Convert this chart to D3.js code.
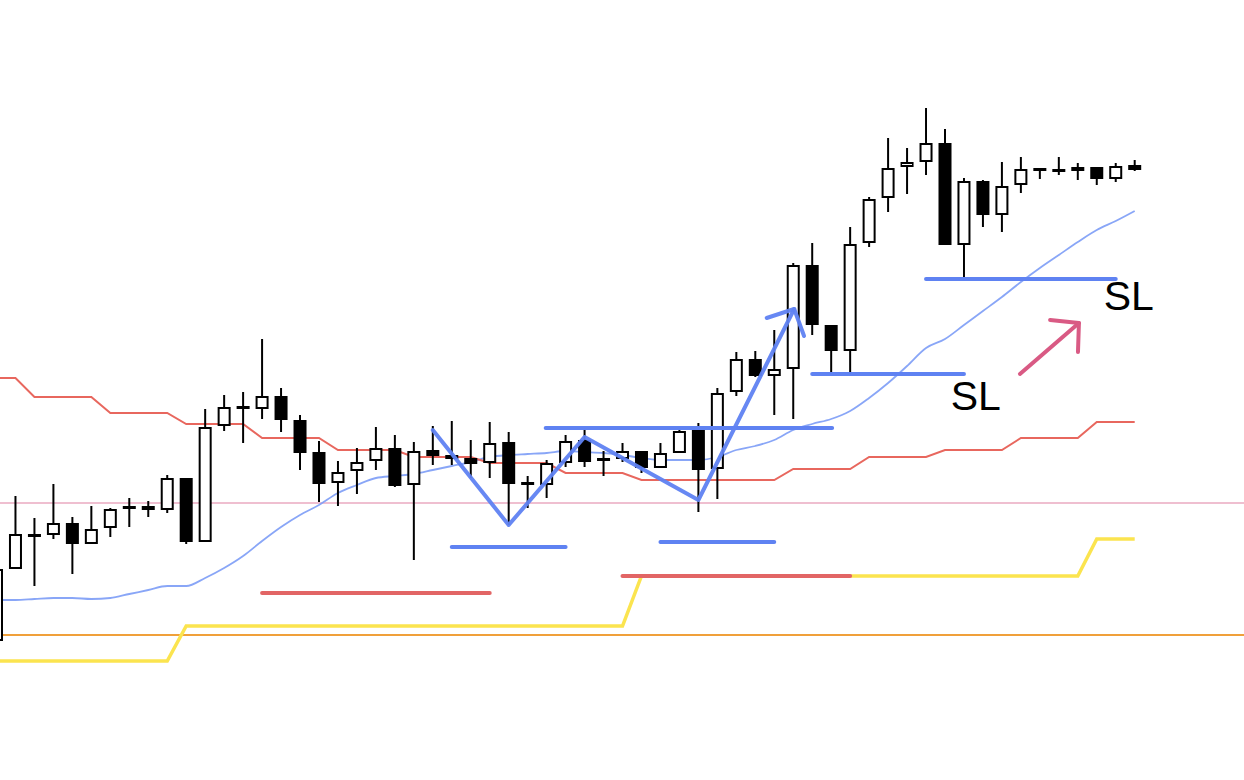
<!DOCTYPE html>
<html>
<head>
<meta charset="utf-8">
<script src="https://cdn.jsdelivr.net/npm/d3@7"></script>
<style>
	html, body { margin: 0; padding: 0; background: #fff; }
	svg { display: block; }
	.sl-label { font-family: "Liberation Sans", Arial, sans-serif; font-size: 41px; fill: #000; }
</style>
</head>
<body>
<svg id="chart" width="1244" height="780" viewBox="0 0 1244 780"></svg>
<script>
// candle prices (open, high, low, close), one entry per bar
const opens  = [139,211,246,245,257,236,252,274,274,270,302,238,354,374,371,384,360,328,297,309,
                319,332,295,330,325,322,317,338,298,295,317,340,322,321,329,312,327,350,311,388,
                421,404,411,515,455,429,537,582,613,618,637,535,599,565,595,612,611,613,613,601,615];
const highs  = [211,284,262,296,263,274,272,282,279,305,302,371,385,388,441,392,365,339,319,332,
                353,345,338,354,359,340,358,348,304,320,345,350,329,337,329,337,350,357,392,428,
                429,450,517,537,455,553,583,642,632,672,651,602,600,618,623,612,623,617,613,617,620];
const lows   = [139,211,194,241,206,236,243,253,263,267,236,238,349,337,361,348,310,278,274,286,
                310,293,220,315,315,302,302,255,272,282,313,313,304,318,307,312,327,268,281,384,
                403,365,361,445,408,407,533,568,586,605,535,502,553,548,587,601,605,600,595,598,609];
const closes = [211,246,245,257,236,251,271,271,270,302,238,353,373,371,384,360,327,296,308,318,
                332,294,329,324,321,316,337,296,297,317,339,318,320,329,312,327,349,310,387,421,
                404,411,515,455,429,536,581,612,618,637,535,599,565,594,611,609,610,609,601,614,610];

// indicator series, one value per bar
const maLine   = [180,180,181,182,182,181,182,186,190,194,194,202,212,224,239,253,265,275,287,295,
                  302,304,306,310,314,318,323,325,326,327,329,328,327,325,322,320,320,320,323,330,
                  334,340,350,356,361,369,382,397,414,432,441,455,469,483,498,512,525,538,550,559,569];
const upperStep = [402,402,383,383,383,383,367,367,367,367,356,356,356,356,342,342,342,342,330,330,
                   330,330,323,323,323,323,317,317,317,317,307,307,307,307,300,300,300,300,300,300,
                   300,300,311,311,311,311,323,323,323,323,330,330,330,330,342,342,342,342,358,358,358];
const lowerStep = [119,119,119,119,119,119,119,119,119,119,154,154,154,154,154,154,154,154,154,154,
                   154,154,154,154,154,154,154,154,154,154,154,154,154,154,204,204,204,204,204,204,
                   204,204,204,204,204,204,204,204,204,204,204,204,204,204,204,204,204,204,241,241,241];

// horizontal levels across the whole chart
const pinkLevel = 277;
const orangeLevel = 145;

// drawn annotations: [startBar, endBar, price]
const blueLevels = [[24, 30, 233], [35, 41, 238], [28.95, 44.05, 352], [43, 51, 406], [49, 59, 501]];
const redLevels  = [[14, 26, 187], [33, 45, 204]];
const zigzag     = [[23, 350], [27, 255], [31, 343], [37, 280], [42.05, 471]];
const zigzagHead = [[40.6, 462], [42.05, 471], [42.57, 444]];
const pinkArrow  = [[53.95, 406], [57.06, 457]];
const pinkHead   = [[55.54, 460], [57.06, 457], [57.01, 428]];
const slLabels   = [[50.3, 370], [58.37, 470]];

const svg = d3.select('#chart');
const width = 1244, height = 780;

const x = d3.scaleLinear().domain([0, 60]).range([-3.5, 1134.7]);
const y = d3.scaleLinear().domain([0, 780]).range([780, 0]);

const candles = opens.map((o, i) => ({ i: i, o: o, h: highs[i], l: lows[i], c: closes[i] }));

svg.append('rect').attr('width', width).attr('height', height).attr('fill', '#fff');

// horizontal levels
svg.append('line').attr('x1', 0).attr('x2', width)
	.attr('y1', y(pinkLevel)).attr('y2', y(pinkLevel))
	.attr('stroke', '#efbfd0').attr('stroke-width', 2);
svg.append('line').attr('x1', 0).attr('x2', width)
	.attr('y1', y(orangeLevel)).attr('y2', y(orangeLevel))
	.attr('stroke', '#f0a03a').attr('stroke-width', 2);

const seriesLine = d3.line().x((d, i) => x(i)).y(d => y(d));

svg.append('path').datum(lowerStep).attr('d', seriesLine)
	.attr('fill', 'none').attr('stroke', '#fbe44f').attr('stroke-width', 3.5);
svg.append('path').datum(maLine).attr('d', seriesLine.curve(d3.curveMonotoneX))
	.attr('fill', 'none').attr('stroke', '#7c9cf6').attr('stroke-opacity', 0.9).attr('stroke-width', 1.8);
seriesLine.curve(d3.curveLinear);
svg.append('path').datum(upperStep).attr('d', seriesLine)
	.attr('fill', 'none').attr('stroke', '#e8675e').attr('stroke-width', 2);

// candles
const bars = svg.append('g').selectAll('g').data(candles).enter().append('g');
bars.append('line')
	.attr('x1', d => x(d.i)).attr('x2', d => x(d.i))
	.attr('y1', d => y(d.h)).attr('y2', d => y(d.l))
	.attr('stroke', '#000').attr('stroke-width', 2);
bars.append('rect')
	.attr('x', d => x(d.i) - 5.5)
	.attr('width', 11)
	.attr('y', d => y(Math.max(d.o, d.c)) + 1)
	.attr('height', d => Math.max(Math.abs(d.o - d.c) - 2, 1))
	.attr('fill', d => d.c > d.o ? '#fff' : '#000')
	.attr('stroke', '#000').attr('stroke-width', 2);

// red annotation levels
svg.append('g').selectAll('line').data(redLevels).enter().append('line')
	.attr('x1', d => x(d[0])).attr('x2', d => x(d[1]))
	.attr('y1', d => y(d[2])).attr('y2', d => y(d[2]))
	.attr('stroke', '#e26565').attr('stroke-width', 4).attr('stroke-linecap', 'round');

// blue annotation levels
svg.append('g').selectAll('line').data(blueLevels).enter().append('line')
	.attr('x1', d => x(d[0])).attr('x2', d => x(d[1]))
	.attr('y1', d => y(d[2])).attr('y2', d => y(d[2]))
	.attr('stroke', '#5f82f2').attr('stroke-width', 4).attr('stroke-linecap', 'round');

const pointLine = d3.line().x(d => x(d[0])).y(d => y(d[1]));

svg.append('path').datum(zigzag).attr('d', pointLine)
	.attr('fill', 'none').attr('stroke', '#5f82f2').attr('stroke-opacity', 0.95)
	.attr('stroke-width', 4).attr('stroke-linejoin', 'round').attr('stroke-linecap', 'round');
svg.append('path').datum(zigzagHead).attr('d', pointLine)
	.attr('fill', 'none').attr('stroke', '#5f82f2').attr('stroke-opacity', 0.95)
	.attr('stroke-width', 4).attr('stroke-linejoin', 'round').attr('stroke-linecap', 'round');

svg.append('path').datum(pinkArrow).attr('d', pointLine)
	.attr('fill', 'none').attr('stroke', '#d95a84')
	.attr('stroke-width', 4).attr('stroke-linecap', 'round');
svg.append('path').datum(pinkHead).attr('d', pointLine)
	.attr('fill', 'none').attr('stroke', '#d95a84')
	.attr('stroke-width', 4).attr('stroke-linejoin', 'round').attr('stroke-linecap', 'round');

svg.append('g').selectAll('text').data(slLabels).enter().append('text')
	.attr('class', 'sl-label')
	.attr('x', d => x(d[0])).attr('y', d => y(d[1]))
	.text('SL');
</script>
</body>
</html>
